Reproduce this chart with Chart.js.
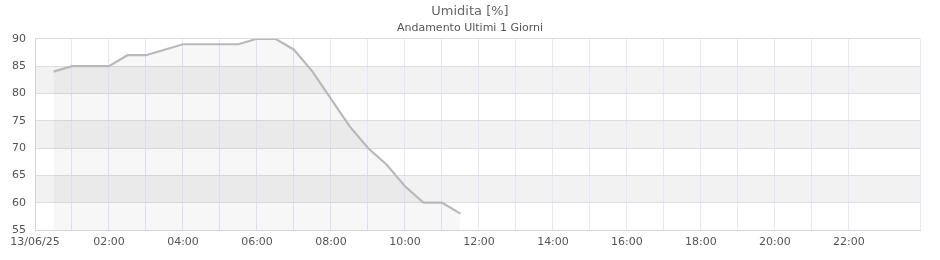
<!DOCTYPE html>
<html>
<head>
<meta charset="utf-8">
<script src="https://cdn.jsdelivr.net/npm/chart.js@4.4.0/dist/chart.umd.min.js"></script>
<style>
  html, body { margin: 0; padding: 0; background: #fff; }
  #wrap { width: 940px; height: 260px; }
</style>
</head>
<body>
<div id="wrap"><canvas id="umiditaChart" width="940" height="260"></canvas></div>
<script>
// readings every 30 minutes, 13/06/25
const times = ['00:30', '01:00', '01:30', '02:00', '02:30', '03:00', '03:30', '04:00',
    '04:30', '05:00', '05:30', '06:00', '06:30', '07:00', '07:30', '08:00',
    '08:30', '09:00', '09:30', '10:00', '10:30', '11:00', '11:30'];
const umidita = [84, 85, 85, 85, 87, 87, 88, 89,
    89, 89, 89, 90, 90, 88, 84, 79,
    74, 70, 67, 63, 60, 60, 58];
const dayLabel = '13/06/25';
const yTicks = [55, 60, 65, 70, 75, 80, 85, 90];

const toHours = t => {
    const [h, m] = t.split(':').map(Number);
    return h + m / 60;
};

// alternating horizontal bands behind the grid
const bands = {
    id: 'bands',
    beforeDraw(chart) {
        const { ctx, chartArea, scales } = chart;
        ctx.save();
        ctx.fillStyle = '#f2f2f2';
        for (let i = 0; i < yTicks.length - 1; i++) {
            if ((yTicks.length - 2 - i) % 2 !== 1) continue;
            const top = scales.y.getPixelForValue(yTicks[i + 1]);
            const bottom = scales.y.getPixelForValue(yTicks[i]);
            ctx.fillRect(chartArea.left, top, chartArea.right - chartArea.left, bottom - top);
        }
        ctx.restore();
    }
};

Chart.defaults.font.family = '"DejaVu Sans", Verdana, sans-serif';
Chart.defaults.color = '#555';

const ctx = document.getElementById('umiditaChart').getContext('2d');
new Chart(ctx, {
    type: 'line',
    data: {
        datasets: [{
            label: 'Umidita',
            data: times.map((t, i) => ({ x: toHours(t), y: umidita[i] })),
            borderColor: '#b9b9b9',
            borderWidth: 2.2,
            backgroundColor: 'rgba(0,0,0,0.032)',
            fill: 'start',
            pointRadius: 0,
            tension: 0
        }]
    },
    options: {
        responsive: false,
        animation: false,
        layout: { padding: 0 },
        plugins: {
            legend: { display: false },
            tooltip: { enabled: false },
            title: {
                display: true,
                text: 'Umidita [%]',
                color: '#666',
                font: { size: 13, weight: 'normal' },
                padding: { top: 4, bottom: 2 }
            },
            subtitle: {
                display: true,
                text: 'Andamento Ultimi 1 Giorni',
                color: '#555',
                font: { size: 11 },
                padding: { top: 0, bottom: 4 }
            }
        },
        scales: {
            x: {
                type: 'linear',
                min: 0,
                max: 23.92,
                afterFit: s => { s.height = 30; },
                grid: { color: '#e8e5f8', drawTicks: false },
                border: { color: '#d4d4d4' },
                ticks: {
                    stepSize: 1,
                    padding: 6,
                    maxRotation: 0,
                    autoSkip: false,
                    font: { size: 11 },
                    callback: v => {
                        if (v === 0) return dayLabel;
                        if (Number.isInteger(v) && v % 2 === 0) return String(v).padStart(2, '0') + ':00';
                        return '';
                    }
                }
            },
            y: {
                min: 55,
                max: 90,
                afterFit: s => { s.width = 35; },
                grid: { color: '#dddddd', drawTicks: false },
                border: { color: '#d4d4d4' },
                ticks: { stepSize: 5, padding: 9, font: { size: 11 } }
            },
            // empty right margin, keeps the titles centred on the canvas
            yRight: {
                position: 'right',
                min: 55,
                max: 90,
                afterFit: s => { s.width = 20; },
                grid: { display: false },
                border: { display: false },
                ticks: { display: false }
            }
        }
    },
    plugins: [bands]
});
</script>
</body>
</html>
